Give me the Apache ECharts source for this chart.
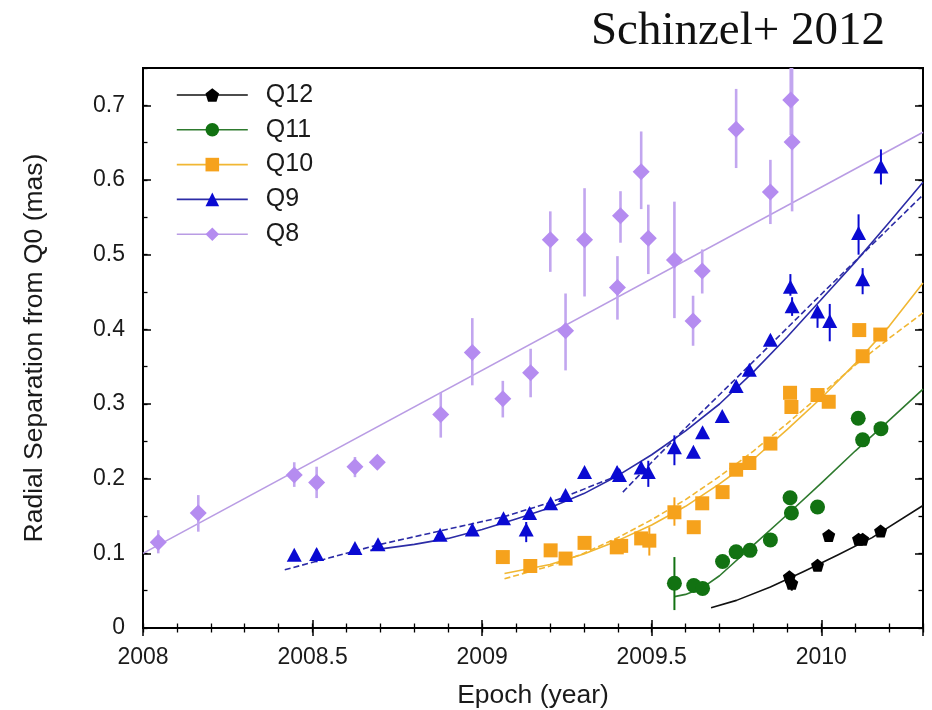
<!DOCTYPE html>
<html>
<head>
<meta charset="utf-8">
<title>Radial separation from Q0</title>
<script src="https://cdn.jsdelivr.net/npm/echarts@6/dist/echarts.min.js"></script>
<style>
  html, body { margin: 0; padding: 0; background: #fff; }
  #chart { width: 932px; height: 710px; }
</style>
</head>
<body>
<div id="chart"></div>
<script>
// Component positions over time: [epoch (yr), separation (mas), error low, error high]
const q8Points = [
  [2008.045, 0.115, 0.100, 0.131],
  [2008.163, 0.154, 0.129, 0.178],
  [2008.446, 0.205, 0.189, 0.222],
  [2008.512, 0.195, 0.174, 0.216],
  [2008.625, 0.216, 0.202, 0.229],
  [2008.691, 0.222, 0.222, 0.222],
  [2008.878, 0.286, 0.255, 0.315],
  [2008.971, 0.369, 0.325, 0.415],
  [2009.061, 0.307, 0.282, 0.331],
  [2009.143, 0.342, 0.309, 0.374],
  [2009.201, 0.520, 0.477, 0.558],
  [2009.246, 0.398, 0.345, 0.448],
  [2009.302, 0.520, 0.444, 0.589],
  [2009.399, 0.456, 0.413, 0.498],
  [2009.408, 0.552, 0.516, 0.585],
  [2009.469, 0.611, 0.561, 0.665],
  [2009.490, 0.522, 0.474, 0.567],
  [2009.567, 0.493, 0.415, 0.571],
  [2009.622, 0.411, 0.378, 0.445],
  [2009.649, 0.478, 0.448, 0.507],
  [2009.749, 0.668, 0.616, 0.722],
  [2009.850, 0.584, 0.541, 0.627],
  [2009.910, 0.707, 0.660, 0.750],
  [2009.914, 0.651, 0.558, 0.750]
];
const q9Points = [
  [2008.446, 0.098, 0.092, 0.104],
  [2008.512, 0.099, 0.088, 0.106],
  [2008.625, 0.107, 0.102, 0.111],
  [2008.693, 0.112, 0.107, 0.116],
  [2008.876, 0.125, 0.118, 0.131],
  [2008.971, 0.132, 0.127, 0.137],
  [2009.063, 0.147, 0.140, 0.152],
  [2009.140, 0.154, 0.147, 0.161],
  [2009.130, 0.132, 0.115, 0.142],
  [2009.202, 0.167, 0.161, 0.172],
  [2009.246, 0.178, 0.172, 0.183],
  [2009.302, 0.209, 0.203, 0.214],
  [2009.398, 0.209, 0.201, 0.216],
  [2009.405, 0.205, 0.198, 0.212],
  [2009.469, 0.215, 0.207, 0.222],
  [2009.490, 0.209, 0.189, 0.224],
  [2009.567, 0.242, 0.218, 0.258],
  [2009.623, 0.236, 0.230, 0.241],
  [2009.650, 0.262, 0.254, 0.268],
  [2009.708, 0.284, 0.279, 0.289],
  [2009.749, 0.324, 0.316, 0.330],
  [2009.788, 0.346, 0.340, 0.352],
  [2009.850, 0.386, 0.379, 0.392],
  [2009.914, 0.431, 0.418, 0.443],
  [2009.909, 0.457, 0.445, 0.474],
  [2009.989, 0.424, 0.402, 0.429],
  [2010.025, 0.411, 0.384, 0.434],
  [2010.110, 0.529, 0.500, 0.554],
  [2010.122, 0.467, 0.447, 0.482],
  [2010.176, 0.618, 0.594, 0.641]
];
const q10Points = [
  [2009.061, 0.095, 0.095, 0.095],
  [2009.142, 0.083, 0.075, 0.090],
  [2009.202, 0.104, 0.098, 0.111],
  [2009.246, 0.093, 0.093, 0.093],
  [2009.302, 0.114, 0.114, 0.114],
  [2009.397, 0.108, 0.108, 0.108],
  [2009.410, 0.110, 0.110, 0.110],
  [2009.469, 0.120, 0.120, 0.120],
  [2009.493, 0.117, 0.097, 0.135],
  [2009.567, 0.155, 0.137, 0.175],
  [2009.624, 0.135, 0.135, 0.135],
  [2009.649, 0.167, 0.167, 0.167],
  [2009.709, 0.182, 0.182, 0.182],
  [2009.749, 0.212, 0.212, 0.212],
  [2009.788, 0.221, 0.221, 0.221],
  [2009.850, 0.247, 0.247, 0.247],
  [2009.908, 0.315, 0.315, 0.315],
  [2009.912, 0.296, 0.296, 0.296],
  [2009.989, 0.312, 0.312, 0.312],
  [2010.022, 0.303, 0.303, 0.303],
  [2010.112, 0.399, 0.399, 0.399],
  [2010.122, 0.364, 0.364, 0.364],
  [2010.174, 0.393, 0.393, 0.393]
];
const q11Points = [
  [2009.567, 0.060, 0.024, 0.095],
  [2009.624, 0.057, 0.050, 0.064],
  [2009.650, 0.053, 0.046, 0.058],
  [2009.709, 0.089, 0.083, 0.094],
  [2009.749, 0.102, 0.102, 0.102],
  [2009.790, 0.104, 0.104, 0.104],
  [2009.850, 0.118, 0.111, 0.123],
  [2009.908, 0.1745, 0.1745, 0.1745],
  [2009.912, 0.154, 0.146, 0.161],
  [2009.989, 0.162, 0.162, 0.162],
  [2010.109, 0.281, 0.281, 0.281],
  [2010.122, 0.252, 0.252, 0.252],
  [2010.176, 0.267, 0.267, 0.267]
];
const q12Points = [
  [2009.906, 0.0685, 0.062, 0.074],
  [2009.913, 0.060, 0.050, 0.066],
  [2009.989, 0.084, 0.079, 0.088],
  [2010.022, 0.124, 0.124, 0.124],
  [2010.110, 0.119, 0.119, 0.119],
  [2010.122, 0.119, 0.119, 0.119],
  [2010.175, 0.130, 0.130, 0.130]
];

// Model trajectories: [epoch, separation]
const q8Fit = [[2008.0, 0.100], [2010.3, 0.664]];
const q9Fit = [
  [2008.67, 0.104], [2008.8, 0.112], [2008.9, 0.120], [2009.0, 0.132],
  [2009.1, 0.146], [2009.2, 0.161], [2009.3, 0.180], [2009.4, 0.204],
  [2009.5, 0.232], [2009.6, 0.264], [2009.7, 0.300], [2009.8, 0.343],
  [2009.9, 0.390], [2010.0, 0.440], [2010.1, 0.490], [2010.2, 0.543],
  [2010.3, 0.597]
];
const q9FitEarly = [
  [2008.418, 0.078], [2008.55, 0.094], [2008.69, 0.111], [2008.876, 0.130],
  [2009.064, 0.149], [2009.2, 0.168], [2009.3, 0.186], [2009.405, 0.205]
];
const q9FitLate = [
  [2009.415, 0.182], [2009.5, 0.222], [2009.6, 0.268], [2009.8, 0.357],
  [2010.0, 0.447], [2010.3, 0.580]
];
const q10Fit = [
  [2009.066, 0.073], [2009.2, 0.085], [2009.3, 0.099], [2009.4, 0.117],
  [2009.5, 0.138], [2009.6, 0.163], [2009.7, 0.193], [2009.8, 0.226],
  [2009.9, 0.266], [2010.0, 0.308], [2010.1, 0.354], [2010.2, 0.404],
  [2010.3, 0.462]
];
const q10FitDashed = [
  [2009.066, 0.066], [2009.2, 0.083], [2009.3, 0.100], [2009.4, 0.121],
  [2009.5, 0.145], [2009.6, 0.172], [2009.7, 0.203], [2009.8, 0.237],
  [2009.9, 0.274], [2010.0, 0.313], [2010.1, 0.352], [2010.2, 0.388],
  [2010.3, 0.422]
];
const q11Fit = [
  [2009.567, 0.042], [2009.6, 0.045], [2009.65, 0.054], [2009.7, 0.070],
  [2009.8, 0.111], [2009.9, 0.152], [2010.0, 0.194], [2010.1, 0.237],
  [2010.2, 0.278], [2010.3, 0.320]
];
const q12Fit = [
  [2009.675, 0.027], [2009.75, 0.037], [2009.85, 0.055], [2009.95, 0.076],
  [2010.05, 0.098], [2010.15, 0.121], [2010.3, 0.164]
];

// Axis ticks
const epochTicks = [2008, 2008.5, 2009, 2009.5, 2010];
const sepTicks = [0, 0.1, 0.2, 0.3, 0.4, 0.5, 0.6, 0.7];

const SANS = 'Liberation Sans, Arial, Helvetica, sans-serif';
const SERIF = 'Liberation Serif, Times New Roman, serif';

const styles = {
  Q12: { mark: '#000000', line: '#111111', err: '#000000', symbol: 'path://M0,-10L9.5,-3.1L5.9,8.1L-5.9,8.1L-9.5,-3.1Z', size: [13, 13] },
  Q11: { mark: '#127212', line: '#2e7a2e', err: '#127212', symbol: 'circle', size: 15 },
  Q10: { mark: '#f6a21c', line: '#f1b733', err: '#f6a21c', symbol: 'rect', size: 14 },
  Q9:  { mark: '#0a0ad2', line: '#2c2ca6', err: '#0a0ad2', symbol: 'triangle', size: [15, 14] },
  Q8:  { mark: '#b58cf0', line: '#b99ce4', err: '#c2a6ef', symbol: 'diamond', size: [17, 17] }
};

function pointSeries(name, rows) {
  const s = styles[name];
  return {
    name: name,
    type: 'line',
    data: rows.map(r => [r[0], r[1]]),
    symbol: s.symbol,
    symbolSize: s.size,
    itemStyle: { color: s.mark },
    lineStyle: { color: s.line, opacity: 0, width: 1.6 },
    z: 5,
    silent: true,
    animation: false
  };
}

function errorSeries(name, rows, width) {
  const s = styles[name];
  return {
    type: 'custom',
    data: rows.filter(r => r[3] > r[2]).map(r => [r[0], r[2], r[3]]),
    encode: { x: 0, y: [1, 2] },
    clip: true,
    z: 4,
    silent: true,
    renderItem: function (params, api) {
      const lo = api.coord([api.value(0), api.value(1)]);
      const hi = api.coord([api.value(0), api.value(2)]);
      return {
        type: 'line',
        shape: { x1: lo[0], y1: lo[1], x2: hi[0], y2: hi[1] },
        style: { stroke: s.err, lineWidth: width }
      };
    }
  };
}

function fitSeries(name, rows, dashed) {
  const s = styles[name];
  return {
    type: 'line',
    data: rows,
    smooth: false,
    showSymbol: false,
    symbol: 'none',
    lineStyle: { color: s.line, width: 1.6, type: dashed ? [6, 3] : 'solid', join: 'round' },
    z: 3,
    silent: true,
    animation: false
  };
}

function majorX(pos, labels) {
  return {
    type: 'value', position: pos, min: 2008, max: 2010.3, interval: 0.5,
    axisLine: { show: false },
    axisTick: { show: true, inside: true, length: 8, lineStyle: { color: '#000', width: 1.5 } },
    axisLabel: labels ? {
      show: true, fontSize: 23, color: '#1a1a1a', fontFamily: SANS, margin: 18,
      customValues: epochTicks,
      formatter: v => String(v)
    } : { show: false },
    splitLine: { show: false },
    name: labels ? 'Epoch (year)' : '',
    nameLocation: 'middle',
    nameGap: 54,
    nameTextStyle: { fontSize: 26.5, color: '#1a1a1a', fontFamily: SANS }
  };
}
function minorX(pos) {
  return {
    type: 'value', position: pos, min: 2008, max: 2010.3, interval: 0.1,
    axisLine: { show: false },
    axisTick: { show: true, inside: true, length: 4.5, lineStyle: { color: '#000', width: 1.3 } },
    axisLabel: { show: false },
    splitLine: { show: false }
  };
}
function majorY(pos, labels) {
  return {
    type: 'value', position: pos, min: 0, max: 0.75, interval: 0.1,
    axisLine: { show: false },
    axisTick: { show: true, inside: true, length: 8, lineStyle: { color: '#000', width: 1.5 } },
    axisLabel: labels ? {
      show: true, fontSize: 23, color: '#1a1a1a', fontFamily: SANS, margin: 18,
      customValues: sepTicks,
      formatter: v => String(Math.round(v * 10) / 10)
    } : { show: false },
    splitLine: { show: false },
    name: labels ? 'Radial Separation from Q0 (mas)' : '',
    nameLocation: 'middle',
    nameGap: 95,
    nameRotate: 90,
    nameTextStyle: { fontSize: 26.5, color: '#1a1a1a', fontFamily: SANS }
  };
}
function minorY(pos) {
  return {
    type: 'value', position: pos, min: 0, max: 0.75, interval: 0.05,
    axisLine: { show: false },
    axisTick: { show: true, inside: true, length: 4.5, lineStyle: { color: '#000', width: 1.3 } },
    axisLabel: { show: false },
    splitLine: { show: false }
  };
}

const chart = echarts.init(document.getElementById('chart'), null, { renderer: 'canvas' });

chart.setOption({
  animation: false,
  backgroundColor: '#ffffff',
  title: {
    text: 'Schinzel+ 2012',
    right: 42,
    top: 3,
    textStyle: { fontFamily: SERIF, fontWeight: 'normal', fontSize: 47, color: '#111' }
  },
  grid: {
    left: 143, right: 9, top: 68, bottom: 82,
    outerBoundsMode: 'none',
    containLabel: false,
    show: true, borderColor: '#000', borderWidth: 2, backgroundColor: 'transparent'
  },
  legend: {
    orient: 'vertical',
    left: 176,
    top: 82.5,
    padding: 0,
    itemWidth: 71,
    itemHeight: 17,
    itemGap: 9.8,
    data: ['Q12', 'Q11', 'Q10', 'Q9', 'Q8'],
    lineStyle: { opacity: 1, width: 1.6 },
    textStyle: { fontSize: 25, color: '#1a1a1a', fontFamily: SANS, padding: [0, 0, 0, 13] }
  },
  xAxis: [majorX('bottom', true), minorX('bottom'), majorX('top', false), minorX('top')],
  yAxis: [majorY('left', true), minorY('left'), majorY('right', false), minorY('right')],
  series: [
    fitSeries('Q8', q8Fit, false),
    fitSeries('Q9', q9Fit, false),
    fitSeries('Q9', q9FitEarly, true),
    fitSeries('Q9', q9FitLate, true),
    fitSeries('Q10', q10Fit, false),
    fitSeries('Q10', q10FitDashed, true),
    fitSeries('Q11', q11Fit, false),
    fitSeries('Q12', q12Fit, false),
    errorSeries('Q8', q8Points, 2.6),
    errorSeries('Q9', q9Points, 2),
    errorSeries('Q10', q10Points, 2),
    errorSeries('Q11', q11Points, 2),
    errorSeries('Q12', q12Points, 2),
    pointSeries('Q8', q8Points),
    pointSeries('Q9', q9Points),
    pointSeries('Q10', q10Points),
    pointSeries('Q11', q11Points),
    pointSeries('Q12', q12Points)
  ]
});
</script>
</body>
</html>
